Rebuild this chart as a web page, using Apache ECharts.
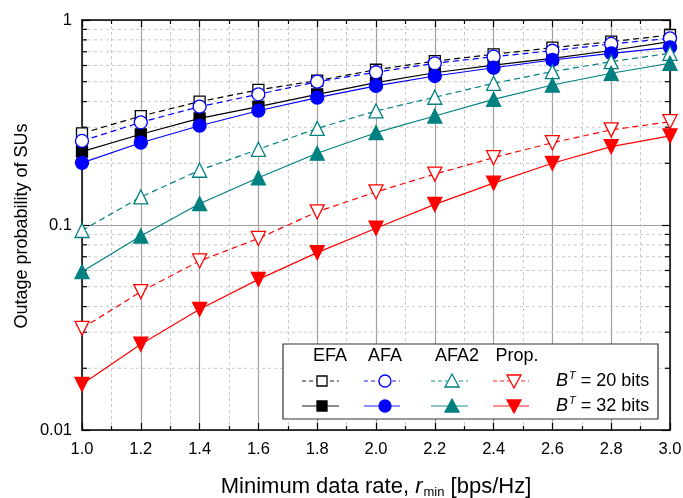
<!DOCTYPE html>
<html>
<head>
<meta charset="utf-8">
<script src="https://cdn.jsdelivr.net/npm/echarts@6/dist/echarts.min.js"></script>
<style>html,body{margin:0;padding:0;background:#fff}#c{width:683px;height:498px}</style>
</head>
<body>
<div id="c"></div>
<script>
var xs = [1.0, 1.2, 1.4, 1.6, 1.8, 2.0, 2.2, 2.4, 2.6, 2.8, 3.0];
var efa20 = [0.28, 0.34, 0.40, 0.456, 0.506, 0.572, 0.63, 0.68, 0.733, 0.784, 0.845];
var efa32 = [0.228, 0.277, 0.331, 0.378, 0.434, 0.495, 0.553, 0.603, 0.65, 0.71, 0.784];
var afa20 = [0.257, 0.317, 0.378, 0.434, 0.50, 0.556, 0.615, 0.662, 0.708, 0.764, 0.814];
var afa32 = [0.201, 0.252, 0.305, 0.361, 0.418, 0.477, 0.533, 0.585, 0.638, 0.688, 0.736];
var afa2_20 = [0.094, 0.137, 0.185, 0.234, 0.296, 0.36, 0.42, 0.491, 0.56, 0.626, 0.688];
var afa2_32 = [0.0592, 0.0884, 0.127, 0.17, 0.224, 0.282, 0.34, 0.41, 0.482, 0.55, 0.615];
var prop20 = [0.0313, 0.0473, 0.0668, 0.086, 0.116, 0.145, 0.177, 0.213, 0.252, 0.291, 0.319];
var prop32 = [0.0167, 0.0262, 0.0388, 0.0543, 0.0733, 0.0964, 0.126, 0.16, 0.2, 0.241, 0.272];
var yMinorVals = [0.02, 0.03, 0.04, 0.05, 0.06, 0.07, 0.08, 0.09, 0.2, 0.3, 0.4, 0.5, 0.6, 0.7, 0.8, 0.9];
var xMin = 1.0, xMax = 3.0;

var FONT = 'Liberation Sans, Arial, sans-serif';
var BLACK = '#000000', BLUE = '#0000ff', TEAL = '#008080', RED = '#ff0000';

function pairs(ys) { return xs.map(function (x, i) { return [x, ys[i]]; }); }

var triUp = 'path://M0,-10L10,8L-10,8Z';
var triDown = 'path://M0,10L10,-8L-10,-8Z';

function mk(name, ys, color, dashed, symbol, size, filled) {
  return {
    name: name, type: 'line', data: pairs(ys), z: 5,
    symbol: symbol, symbolSize: size, showSymbol: true,
    lineStyle: { color: color, width: 1.2, type: dashed ? [6, 4] : 'solid' },
    itemStyle: { color: filled ? color : '#ffffff', borderColor: color, borderWidth: 1.3 },
    emphasis: { disabled: true }, animation: false
  };
}

var chart = echarts.init(document.getElementById('c'), null, { renderer: 'canvas' });

var minorSeries = {
  type: 'custom', z: 1, silent: true, animation: false,
  data: yMinorVals.map(function (v) { return [xMin, v]; }),
  renderItem: function (params, api) {
    var v = api.value(1);
    var p0 = api.coord([xMin, v]);
    var p1 = api.coord([xMax, v]);
    return {
      type: 'group', children: [
        { type: 'line', shape: { x1: p0[0], y1: p0[1], x2: p1[0], y2: p1[1] },
          style: { stroke: '#c8c8c8', lineWidth: 1, lineDash: [3, 3] } },
        { type: 'line', shape: { x1: p0[0], y1: p0[1], x2: p0[0] + 5, y2: p0[1] },
          style: { stroke: '#000', lineWidth: 1.2 } },
        { type: 'line', shape: { x1: p1[0] - 5, y1: p1[1], x2: p1[0], y2: p1[1] },
          style: { stroke: '#000', lineWidth: 1.2 } }
      ]
    };
  }
};

// legend graphics
var g = [];
g.push({ type: 'text', x: 22, y: 226, rotation: Math.PI / 2, z: 101,
  style: { text: 'Outage probability of SUs', font: '18px ' + FONT, fill: '#000', align: 'center', verticalAlign: 'middle' } });
g.push({ type: 'rect', shape: { x: 283, y: 344, width: 375, height: 75 },
  style: { fill: '#ffffff', stroke: '#333333', lineWidth: 1.2 }, z: 100 });
var heads = [['EFA', 330], ['AFA', 385], ['AFA2', 457], ['Prop.', 517]];
heads.forEach(function (h) {
  g.push({ type: 'text', x: h[1], y: 356, z: 101,
    style: { text: h[0], font: '18px ' + FONT, fill: '#000', align: 'center', verticalAlign: 'middle' } });
});
var legCols = [
  { x0: 302, x1: 339, mx: 322, color: BLACK, kind: 'rect' },
  { x0: 364, x1: 400, mx: 385, color: BLUE, kind: 'circle' },
  { x0: 431, x1: 468, mx: 452, color: TEAL, kind: 'up' },
  { x0: 493, x1: 529, mx: 514, color: RED, kind: 'down' }
];
function legMarker(kind, cx, cy, color, filled) {
  var st = { fill: filled ? color : '#fff', stroke: color, lineWidth: 1.3 };
  if (kind === 'rect') return { type: 'rect', shape: { x: cx - 5, y: cy - 5, width: 10, height: 10 }, style: st, z: 102 };
  if (kind === 'circle') return { type: 'circle', shape: { cx: cx, cy: cy, r: 6 }, style: st, z: 102 };
  if (kind === 'up') return { type: 'polygon', shape: { points: [[cx, cy - 7], [cx + 7, cy + 6], [cx - 7, cy + 6]] }, style: st, z: 102 };
  return { type: 'polygon', shape: { points: [[cx, cy + 7], [cx + 7, cy - 6], [cx - 7, cy - 6]] }, style: st, z: 102 };
}
[[381, true], [406, false]].forEach(function (row) {
  var y = row[0], dashed = row[1];
  legCols.forEach(function (c) {
    g.push({ type: 'line', shape: { x1: c.x0, y1: y, x2: c.x1, y2: y }, z: 101,
      style: { stroke: c.color, opacity: 0.6, lineWidth: 1.3, lineDash: dashed ? [4, 3] : null } });
    g.push(legMarker(c.kind, c.mx, y, c.color, !dashed));
  });
});
var legRich = { i: { font: 'italic 18px ' + FONT, fill: '#000' },
  s: { font: 'italic 11px ' + FONT, fill: '#000', verticalAlign: 'top', padding: [0, 0, 10, 1] },
  n: { font: '18px ' + FONT, fill: '#000' } };
g.push({ type: 'text', x: 556, y: 381, z: 101,
  style: { text: '{i|B}{s|T}{n| = 20 bits}', verticalAlign: 'middle', rich: legRich } });
g.push({ type: 'text', x: 556, y: 406, z: 101,
  style: { text: '{i|B}{s|T}{n| = 32 bits}', verticalAlign: 'middle', rich: legRich } });

function fmtLog(v) { return String(parseFloat(v.toPrecision(6))); }

var option = {
  backgroundColor: '#ffffff',
  animation: false,
  grid: { left: 82, top: 20, right: 13, bottom: 68, containLabel: false, outerBoundsMode: 'none' },
  xAxis: [{
    type: 'value', min: xMin, max: xMax, interval: 0.2, position: 'bottom',
    name: '{n|Minimum data rate, }{i|r}{s|min}{n| [bps/Hz]}',
    nameLocation: 'middle', nameGap: 44,
    nameTextStyle: { rich: {
      n: { fontFamily: FONT, fontSize: 22, color: '#000' },
      i: { fontFamily: FONT, fontSize: 22, fontStyle: 'italic', color: '#000' },
      s: { fontFamily: FONT, fontSize: 13, color: '#000', padding: [12, 0, 0, 1] }
    } },
    axisLine: { show: true, lineStyle: { color: '#000', width: 1.5 } },
    axisTick: { show: true, inside: true, length: 7, lineStyle: { color: '#000', width: 1.2 } },
    minorTick: { show: true, splitNumber: 2, length: 4, lineStyle: { color: '#000', width: 1.2 } },
    axisLabel: { fontFamily: FONT, fontSize: 16.5, color: '#000', margin: 11,
      formatter: function (v) { return v.toFixed(1); } },
    splitLine: { show: true, lineStyle: { color: '#a0a0a0', width: 1.2 } },
    minorSplitLine: { show: true, lineStyle: { color: '#c8c8c8', width: 1, type: [3, 3] } }
  }, {
    type: 'value', min: xMin, max: xMax, interval: 0.2, position: 'top',
    axisLine: { show: true, lineStyle: { color: '#000', width: 1.5 } },
    axisTick: { show: true, inside: true, length: 7, lineStyle: { color: '#000', width: 1.2 } },
    minorTick: { show: true, splitNumber: 2, length: 4, lineStyle: { color: '#000', width: 1.2 } },
    axisLabel: { show: false }, splitLine: { show: false }
  }],
  yAxis: [{
    type: 'log', logBase: 10, min: 0.01, max: 1, position: 'left',
    axisLine: { show: true, lineStyle: { color: '#000', width: 1.5 } },
    axisTick: { show: true, inside: true, length: 8, lineStyle: { color: '#000', width: 1.2 } },
    minorTick: { show: false },
    axisLabel: { fontFamily: FONT, fontSize: 16.5, color: '#000', margin: 10, formatter: fmtLog },
    splitLine: { show: true, lineStyle: { color: '#a0a0a0', width: 1.2 } }
  }, {
    type: 'log', logBase: 10, min: 0.01, max: 1, position: 'right',
    axisLine: { show: true, lineStyle: { color: '#000', width: 1.5 } },
    axisTick: { show: true, inside: true, length: 8, lineStyle: { color: '#000', width: 1.2 } },
    minorTick: { show: false },
    axisLabel: { show: false }, splitLine: { show: false }
  }],
  graphic: g,
  series: [
    minorSeries,
    mk('EFA 20', efa20, BLACK, true, 'rect', 11, false),
    mk('EFA 32', efa32, BLACK, false, 'rect', 11, true),
    mk('AFA 20', afa20, BLUE, true, 'circle', 13, false),
    mk('AFA 32', afa32, BLUE, false, 'circle', 13, true),
    mk('AFA2 20', afa2_20, TEAL, true, triUp, 14, false),
    mk('AFA2 32', afa2_32, TEAL, false, triUp, 14, true),
    mk('Prop 20', prop20, RED, true, triDown, 14, false),
    mk('Prop 32', prop32, RED, false, triDown, 14, true)
  ]
};
chart.setOption(option);
</script>
</body>
</html>
